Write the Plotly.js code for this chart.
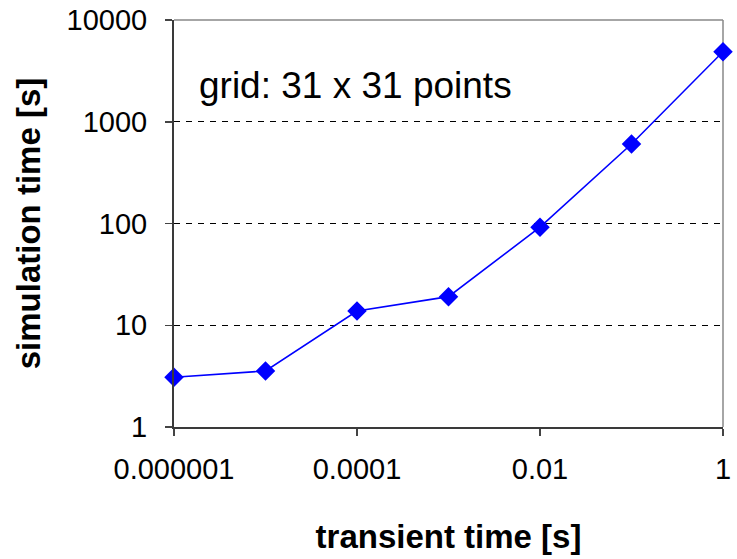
<!DOCTYPE html>
<html>
<head>
<meta charset="utf-8">
<script src="https://cdn.plot.ly/plotly-3.0.1.min.js"></script>
<style>
  html, body { margin: 0; padding: 0; background: #fff; }
  #chart { width: 737px; height: 559px; }
</style>
</head>
<body>
<div id="chart"></div>
<script>
// Transient time vs. simulation time on a 31 x 31 grid
const transientTime = [1e-6, 1e-5, 1e-4, 1e-3, 1e-2, 1e-1, 1];
const simulationTime = [3.08, 3.55, 13.8, 19.1, 92, 604, 4880];

const xTickVals = [1e-6, 1e-4, 1e-2, 1];
const xTickText = ['0.000001', '0.0001', '0.01', '1'];
const yTickVals = [1, 10, 100, 1000, 10000];
const yTickText = ['1', '10', '100', '1000', '10000'];

const FONT = 'Liberation Sans, Arial, sans-serif';

const trace = {
  x: transientTime,
  y: simulationTime,
  type: 'scatter',
  mode: 'lines+markers',
  line: { color: '#0000ff', width: 1.6 },
  marker: { symbol: 'diamond', size: 15, color: '#0000ff' },
  cliponaxis: false,
  hoverinfo: 'x+y'
};

const layout = {
  width: 737,
  height: 559,
  margin: { l: 174, r: 14, t: 20, b: 132 },
  paper_bgcolor: '#ffffff',
  plot_bgcolor: '#ffffff',
  showlegend: false,
  font: { family: FONT, color: '#000' },
  xaxis: {
    type: 'log',
    range: [-6, 0],
    tickvals: xTickVals,
    ticktext: xTickText,
    tickfont: { size: 29, family: FONT, color: '#000' },
    ticks: 'outside',
    ticklen: 7,
    tickwidth: 1.5,
    tickcolor: '#444',
    ticklabelstandoff: 8,
    showgrid: false,
    zeroline: false,
    showline: true,
    linecolor: '#3a3a3a',
    linewidth: 2,
    title: { text: 'transient time [s]', font: { size: 33, family: FONT, weight: 'bold', color: '#000' }, standoff: 41 }
  },
  yaxis: {
    type: 'log',
    range: [0, 4],
    tickvals: yTickVals,
    ticktext: yTickText,
    tickfont: { size: 29, family: FONT, color: '#000' },
    ticks: 'outside',
    ticklen: 7,
    tickwidth: 1.5,
    tickcolor: '#444',
    ticklabelstandoff: 12,
    showgrid: true,
    gridcolor: '#000',
    gridwidth: 1,
    griddash: '6px,6px',
    zeroline: false,
    showline: true,
    linecolor: '#3a3a3a',
    linewidth: 2,
    title: { text: 'simulation time [s]', font: { size: 33, family: FONT, weight: 'bold', color: '#000' }, standoff: 16 }
  },
  shapes: [
    // light frame on the top and right edges of the plot area
    { type: 'line', xref: 'paper', yref: 'paper', x0: 0, x1: 1, y0: 1, y1: 1, line: { color: '#888', width: 1.5 }, layer: 'below' },
    { type: 'line', xref: 'paper', yref: 'paper', x0: 1, x1: 1, y0: 0, y1: 1, line: { color: '#888', width: 1.5 }, layer: 'below' }
  ],
  annotations: [
    {
      text: 'grid: 31 x 31 points',
      xref: 'paper', yref: 'paper',
      x: 0.042, y: 0.84,
      xanchor: 'left', yanchor: 'middle',
      showarrow: false,
      font: { size: 37, family: FONT, color: '#000' }
    }
  ]
};

Plotly.newPlot('chart', [trace], layout, { displayModeBar: false, staticPlot: true });
</script>
</body>
</html>
